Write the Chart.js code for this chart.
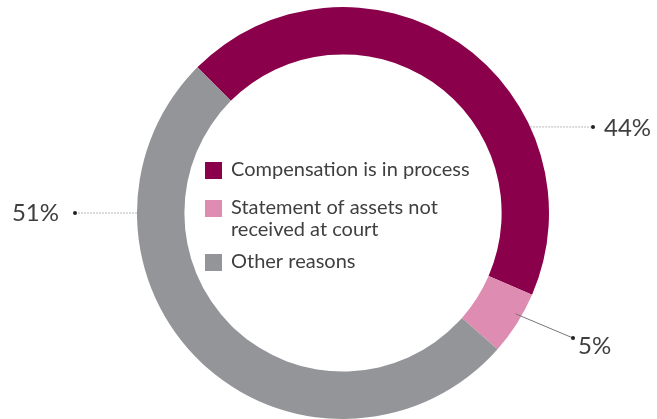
<!DOCTYPE html>
<html>
<head>
<meta charset="utf-8">
<script src="https://cdn.jsdelivr.net/npm/chart.js@4"></script>
<style>
html,body{margin:0;padding:0;background:#fff;}
#wrap{width:657px;height:419px;position:relative;}
</style>
</head>
<body>
<div id="wrap"><canvas id="c" width="657" height="419"></canvas></div>
<script>
const categories = ["Compensation is in process", "Statement of assets not received at court", "Other reasons"];
const legendLines = [["Compensation is in process"], ["Statement of assets not", "received at court"], ["Other reasons"]];
const values = [44, 5, 51];
const valueLabels = ["44%", "5%", "51%"];
const colors = ["#8a004b", "#de8cb1", "#949598"];

const FONT = "Lato, 'Open Sans', sans-serif";
const TEXT = "#3f3f3f";

// label placement (style): anchor angle on ring (deg from top, clockwise), radius factor, leader end offset, text pos
const labelStyle = [
  {ang: 65.3, rf: 1.0, ex: 250, ey: -86, tx: 261, ty: -85, align: "left", dash: true},
  {ang: 120.3, rf: 0.97, ex: 230, ey: 125, tx: 235, ty: 133, align: "left", dash: false},
  {ang: 270, rf: 1.0, ex: -268, ey: 0, tx: -284, ty: 0, align: "right", dash: true}
];

const centerLegend = {
  id: "centerLegend",
  afterDatasetsDraw(chart) {
    const ctx = chart.ctx;
    const meta = chart.getDatasetMeta(0);
    const arc = meta.data[0];
    const cx = arc.x, cy = arc.y, R = arc.outerRadius;
    ctx.save();
    // legend
    const rows = [[-43], [-5, 17], [49]];
    ctx.font = "20px " + FONT;
    ctx.textBaseline = "middle";
    ctx.textAlign = "left";
    legendLines.forEach((lines, i) => {
      const y0 = cy + rows[i][0];
      ctx.fillStyle = colors[i];
      ctx.fillRect(cx - 138, y0 - 8, 17, 17);
      ctx.fillStyle = TEXT;
      lines.forEach((ln, j) => {
        ctx.fillText(ln, cx - 112, cy + rows[i][j]);
      });
    });
    // value labels with leaders
    ctx.font = "24px " + FONT;
    values.forEach((v, i) => {
      const s = labelStyle[i];
      const a = s.ang * Math.PI / 180;
      const ax = cx + R * s.rf * Math.sin(a);
      const ay = cy - R * s.rf * Math.cos(a);
      const ex = cx + s.ex, ey = cy + s.ey;
      ctx.beginPath();
      ctx.moveTo(ax, ay);
      ctx.lineTo(ex, ey);
      ctx.lineWidth = 1;
      ctx.strokeStyle = s.dash ? "#b8b8b8" : "#777";
      ctx.setLineDash(s.dash ? [2, 1] : []);
      ctx.stroke();
      ctx.setLineDash([]);
      ctx.beginPath();
      ctx.arc(ex, ey, 2, 0, Math.PI * 2);
      ctx.fillStyle = "#222";
      ctx.fill();
      ctx.fillStyle = TEXT;
      ctx.textAlign = s.align;
      ctx.fillText(valueLabels[i], cx + s.tx, cy + s.ty);
    });
    ctx.restore();
  }
};

new Chart(document.getElementById("c"), {
  type: "doughnut",
  data: {
    labels: categories,
    datasets: [{
      data: values,
      backgroundColor: colors,
      borderWidth: 0,
      hoverOffset: 0
    }]
  },
  options: {
    responsive: false,
    animation: false,
    rotation: -45,
    cutout: "77%",
    layout: {padding: {top: 7, left: 29, right: 0, bottom: 0}},
    plugins: {legend: {display: false}, tooltip: {enabled: false}}
  },
  plugins: [centerLegend]
});
</script>
</body>
</html>
